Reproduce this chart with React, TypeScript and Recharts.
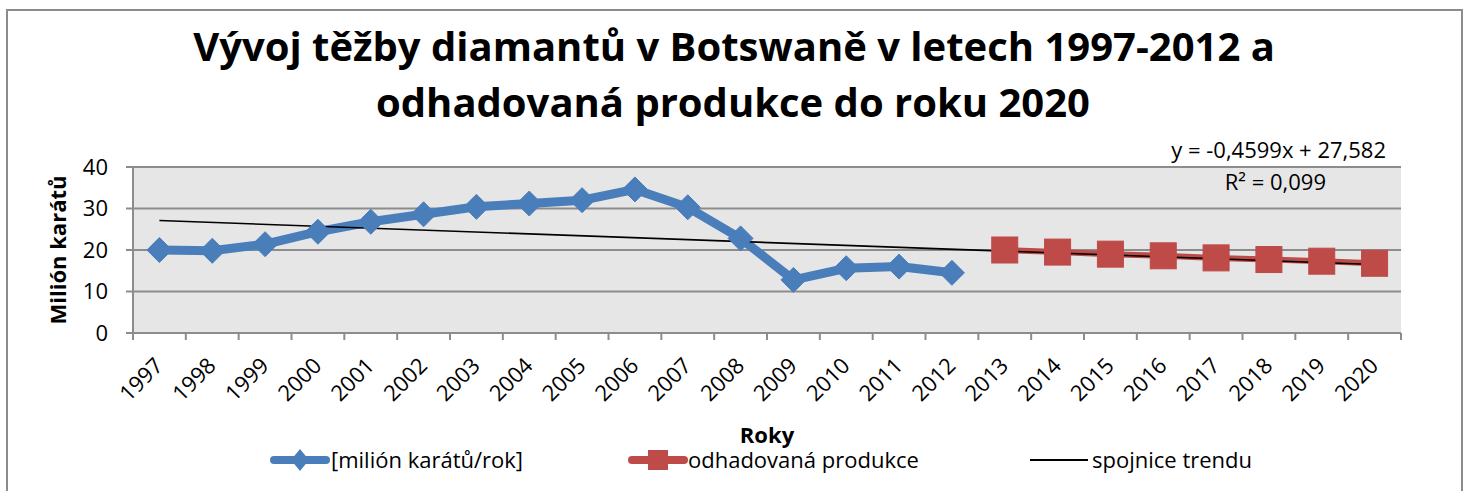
import React from 'react';
import { LineChart, Line, XAxis, YAxis, CartesianGrid, Legend } from 'recharts';

const years = ['1997', '1998', '1999', '2000', '2001', '2002', '2003', '2004', '2005', '2006', '2007', '2008', '2009', '2010', '2011', '2012', '2013', '2014', '2015', '2016', '2017', '2018', '2019', '2020'];
const production: (number | null)[] = [20.0, 19.8, 21.4, 24.4, 26.8, 28.6, 30.4, 31.2, 32.0, 34.6, 30.3, 22.8, 12.8, 15.6, 16.0, 14.5, null, null, null, null, null, null, null, null];
const estimate: (number | null)[] = [null, null, null, null, null, null, null, null, null, null, null, null, null, null, null, null, 20.0, 19.5, 19.0, 18.6, 18.1, 17.7, 17.3, 16.8];
const trend: (number | null)[] = [27.1, null, null, null, null, null, null, null, null, null, null, null, null, null, null, null, null, null, null, null, null, null, null, 16.5];
const yTicks = [0, 10, 20, 30, 40];

const titleLines = ['Vývoj těžby diamantů v Botswaně v letech 1997-2012 a', 'odhadovaná produkce do roku 2020'];
const equationText = 'y = -0,4599x + 27,582';
const r2Text = 'R² = 0,099';
const seriesNames = ['[milión karátů/rok]', 'odhadovaná produkce', 'spojnice trendu'];

const data = years.map((y, i) => ({ year: y, production: production[i], estimate: estimate[i], trend: trend[i] }));

const FONT = "'Open Sans', Lato, sans-serif";
const BLUE = '#4a7ebb';
const RED = '#be4b48';
const GRID = '#8c8c8c';
const W = 1468;
const H = 491;
const MARGIN = { top: 167, right: 67, bottom: 98, left: 0 };
const Y_W = 133;
const BAND = (W - MARGIN.right - Y_W) / years.length;
const FS = 22;

const Diamond = (props: any) => {
  const { cx, cy, index } = props;
  if (cx == null || cy == null) return <g key={`d${index}`} />;
  const r = 12.5;
  return <polygon key={`d${index}`} points={`${cx},${cy - r} ${cx + r},${cy} ${cx},${cy + r} ${cx - r},${cy}`} fill={BLUE} stroke={BLUE} strokeWidth={1} />;
};

const Square = (props: any) => {
  const { cx, cy, index } = props;
  if (cx == null || cy == null) return <g key={`s${index}`} />;
  const s = 13;
  return <rect key={`s${index}`} x={cx - s} y={cy - s} width={2 * s} height={2 * s} fill={RED} stroke={RED} strokeWidth={1} />;
};

const XTick = (props: any) => {
  const { x, y, payload, index } = props;
  const bx = x - BAND / 2;
  const tx = x + 5;
  const ty = y + 34;
  return (
    <g>
      <line x1={bx} y1={y} x2={bx} y2={y + 7} stroke={GRID} strokeWidth={2} />
      {index === years.length - 1 && <line x1={x + BAND / 2} y1={y} x2={x + BAND / 2} y2={y + 7} stroke={GRID} strokeWidth={2} />}
      <text x={tx} y={ty} transform={`rotate(-45, ${tx}, ${ty})`} textAnchor="end" fontSize={FS} fontFamily={FONT} fill="#000">
        {payload.value}
      </text>
    </g>
  );
};

const YLabel = (props: any) => {
  const vb = props.viewBox || {};
  const cy = (vb.y ?? 167) + (vb.height ?? 166) / 2;
  return (
    <text x={66} y={cy} transform={`rotate(-90, 66, ${cy})`} textAnchor="middle" fontSize={FS} fontWeight={700} fontFamily={FONT} fill="#000">
      Milión karátů
    </text>
  );
};

const XLabel = (props: any) => {
  const vb = props.viewBox || {};
  const cx = (vb.x ?? 133) + (vb.width ?? 1268) / 2;
  return (
    <text x={cx} y={443} textAnchor="middle" fontSize={FS} fontWeight={700} fontFamily={FONT} fill="#000">
      Roky
    </text>
  );
};

const LegendContent = () => (
  <svg width={W} height={34} style={{ display: 'block' }}>
    <line x1={274} y1={15} x2={326} y2={15} stroke={BLUE} strokeWidth={8} strokeLinecap="round" />
    <polygon points="300,4 309,15 300,26 291,15" fill={BLUE} />
    <text x={331} y={23} fontSize={FS} fontFamily={FONT} fill="#000">{seriesNames[0]}</text>
    <line x1={632} y1={15} x2={684} y2={15} stroke={RED} strokeWidth={8} strokeLinecap="round" />
    <rect x={648} y={5} width={20} height={20} fill={RED} />
    <text x={688} y={23} fontSize={FS} fontFamily={FONT} fill="#000">{seriesNames[1]}</text>
    <line x1={1030} y1={15} x2={1088} y2={15} stroke="#000" strokeWidth={2} />
    <text x={1092} y={23} fontSize={FS} fontFamily={FONT} fill="#000">{seriesNames[2]}</text>
  </svg>
);

export default function App() {
  return (
    <div style={{ position: 'absolute', left: 0, top: 0, width: W, height: H, background: '#fff', fontFamily: FONT }}>
      <LineChart width={W} height={H} data={data} margin={MARGIN}>
        <CartesianGrid vertical={false} fill="#e6e6e6" stroke={GRID} strokeWidth={2} fillOpacity={1} />
        <XAxis
          dataKey="year"
          height={60}
          interval={0}
          tickSize={0}
          tickMargin={0}
          padding={{ left: BAND / 2, right: BAND / 2 }}
          tick={<XTick />}
          axisLine={{ stroke: GRID, strokeWidth: 2 }}
          tickLine={false}
          label={<XLabel />}
        />
        <YAxis
          width={Y_W}
          domain={[0, 40]}
          ticks={yTicks}
          interval={0}
          tickSize={7}
          tickMargin={18}
          tick={{ fontSize: FS, fill: '#000', fontFamily: FONT }}
          axisLine={{ stroke: GRID, strokeWidth: 2 }}
          tickLine={{ stroke: GRID, strokeWidth: 2 }}
          label={<YLabel />}
        />
        <Legend layout="horizontal" verticalAlign="middle" align="center" wrapperStyle={{ top: 445, left: 0, width: W }} content={<LegendContent />} />
        <Line dataKey="production" stroke={BLUE} strokeWidth={9} dot={<Diamond />} activeDot={false} isAnimationActive={false} connectNulls={false} />
        <Line dataKey="estimate" stroke={RED} strokeWidth={6} dot={<Square />} activeDot={false} isAnimationActive={false} connectNulls={false} />
        <Line dataKey="trend" stroke="#000" strokeWidth={1.6} dot={false} activeDot={false} isAnimationActive={false} connectNulls />
      </LineChart>
      <svg width={W} height={H} style={{ position: 'absolute', left: 0, top: 0, pointerEvents: 'none' }}>
        <rect x={7} y={10} width={1455} height={500} fill="none" stroke={GRID} strokeWidth={2} />
        <text x={734} y={61} textAnchor="middle" fontSize={40} fontWeight={700} fontFamily={FONT} fill="#000">{titleLines[0]}</text>
        <text x={733} y={117} textAnchor="middle" fontSize={40} fontWeight={700} fontFamily={FONT} fill="#000">{titleLines[1]}</text>
        <text x={1386} y={158} textAnchor="end" fontSize={FS} fontFamily={FONT} fill="#000">{equationText}</text>
        <text x={1326} y={190} textAnchor="end" fontSize={FS} fontFamily={FONT} fill="#000">{r2Text}</text>
      </svg>
    </div>
  );
}
